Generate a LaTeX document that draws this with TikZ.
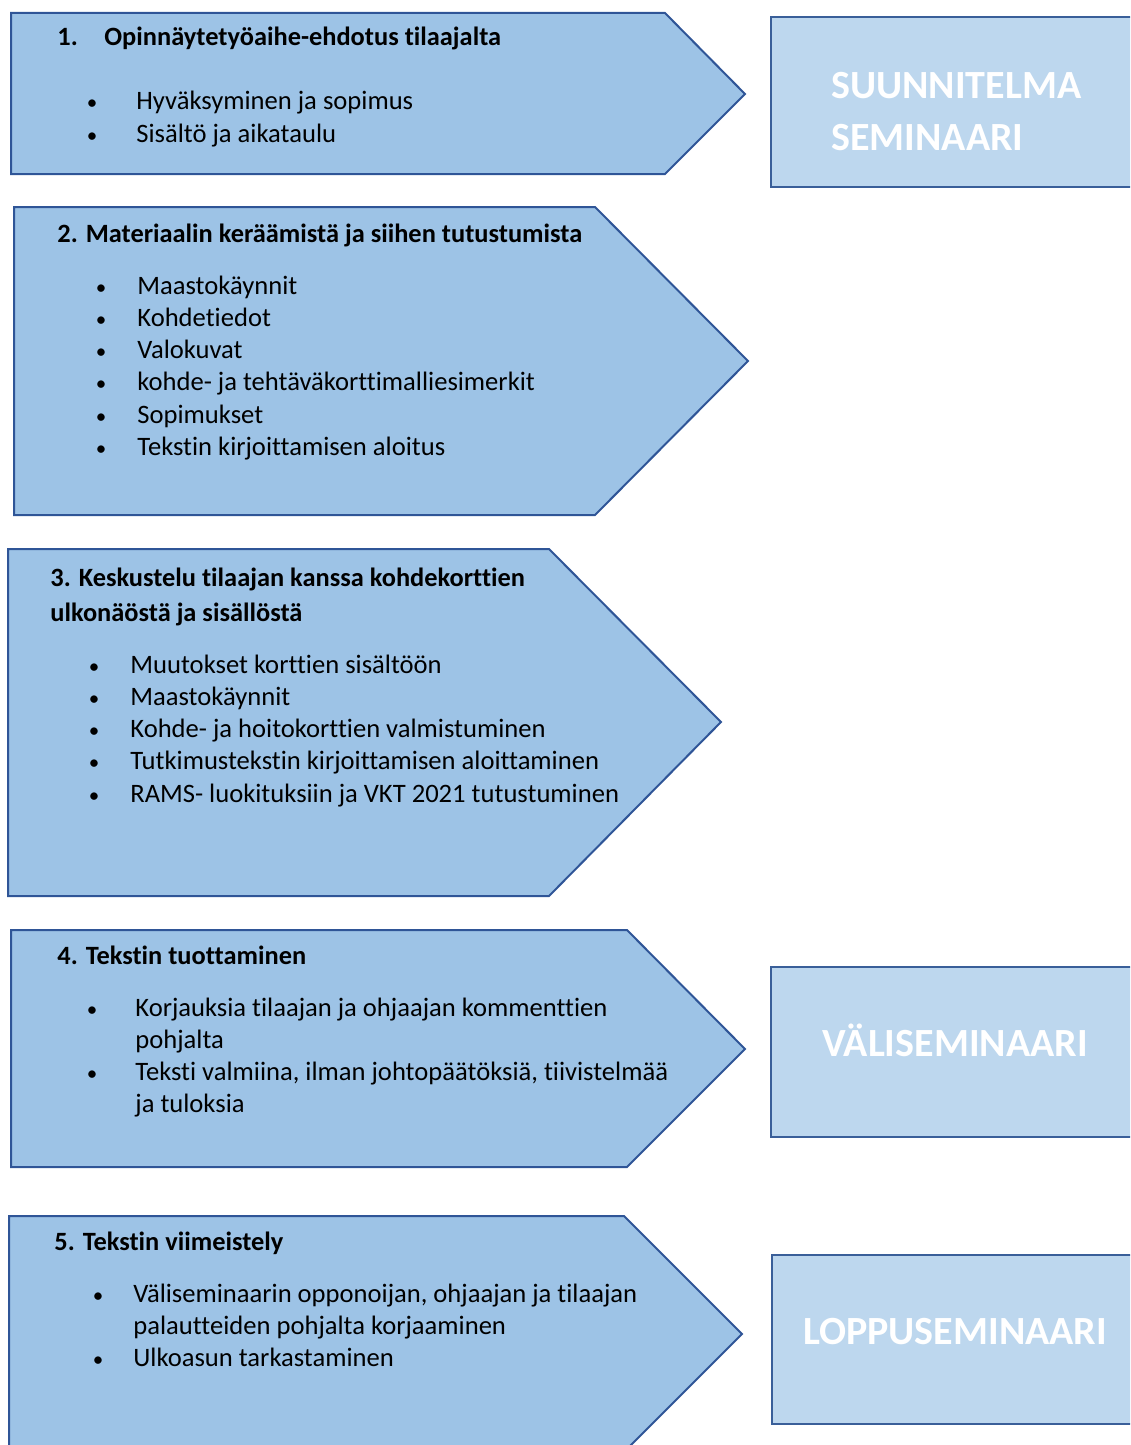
\documentclass[tikz,border=0pt]{standalone}
\usepackage{fontspec}
\setmainfont{Carlito}[Ligatures=NoCommon]
\definecolor{phasefill}{HTML}{9DC3E6}
\definecolor{phaseline}{HTML}{2F5597}
\definecolor{semfill}{HTML}{BDD7EE}
\definecolor{semline}{HTML}{3A5F99}
\tikzset{
  phase/.style={draw=phaseline, fill=phasefill, line width=1pt, line join=miter},
  seminaari/.style={draw=semline, fill=semfill, line width=1.2pt},
  otsikko/.style={anchor=base west, inner sep=0pt, font=\fontsize{13.2}{16}\selectfont\bfseries},
  kohta/.style={anchor=base west, inner sep=0pt, font=\fontsize{13.3}{16}\selectfont},
  pallo/.style={anchor=base, inner sep=0pt, font=\fontsize{10.5}{16}\selectfont},
  semteksti/.style={inner sep=0pt, text=white, font=\fontsize{20}{24}\selectfont\bfseries}
}
\begin{document}
\begin{tikzpicture}[x=0.5pt, y=-0.5pt]
  \clip (0,0) rectangle (1130,1445);

  % vaiheet
  \draw[phase] (11,13) -- (665,13) -- (745,94) -- (665,174) -- (11,174) -- cycle;
  \draw[phase] (14,207) -- (595,207) -- (748,361) -- (595,515) -- (14,515) -- cycle;
  \draw[phase] (8,549) -- (549,549) -- (721,722) -- (549,896) -- (8,896) -- cycle;
  \draw[phase] (11,930) -- (627,930) -- (745,1049) -- (627,1167) -- (11,1167) -- cycle;
  \draw[phase] (9,1216) -- (624,1216) -- (742,1334) -- (624,1452) -- (9,1452) -- cycle;

  % seminaarit
  \draw[seminaari] (771,17) rectangle (1140,187);
  \draw[seminaari] (771,967) rectangle (1140,1137);
  \draw[seminaari] (772,1255) rectangle (1140,1424);

  \node[semteksti, anchor=base west] (sem1a) at (831,99) {SUUNNITELMA};
  \node[semteksti, anchor=base west] (sem1b) at (831,150) {SEMINAARI};
  \node[semteksti, anchor=base] (sem2) at (955,1056) {VÄLISEMINAARI};
  \node[semteksti, anchor=base] (sem3) at (955,1344) {LOPPUSEMINAARI};

  % 1.
  \node[otsikko] (v1n) at (57,46) {1.};
  \node[otsikko] (v1) at (104,46) {Opinnäytetyöaihe-ehdotus tilaajalta};
  \foreach \y/\t [count=\i] in {110/Hyväksyminen ja sopimus, 142/Sisältö ja aikataulu} {
    \node[pallo] (v1p\i) at (92,\y) {\textbullet};
    \node[kohta] (v1k\i) at (136,\y) {\t};
  }

  % 2.
  \node[otsikko] (v2) at (57,242) {2. Materiaalin keräämistä ja siihen tutustumista};
  \foreach \y/\t [count=\i] in {294/Maastokäynnit, 326/Kohdetiedot, 358/Valokuvat,
      390/kohde- ja tehtäväkorttimalliesimerkit, 423/Sopimukset,
      455/Tekstin kirjoittamisen aloitus} {
    \node[pallo] (v2p\i) at (101,\y) {\textbullet};
    \node[kohta] (v2k\i) at (137,\y) {\t};
  }

  % 3.
  \node[otsikko] (v3a) at (50,586) {3. Keskustelu tilaajan kanssa kohdekorttien};
  \node[otsikko] (v3b) at (50,621) {ulkonäöstä ja sisällöstä};
  \foreach \y/\t [count=\i] in {673/Muutokset korttien sisältöön, 705/Maastokäynnit,
      737/Kohde- ja hoitokorttien valmistuminen,
      769/Tutkimustekstin kirjoittamisen aloittaminen,
      802/RAMS- luokituksiin ja VKT 2021 tutustuminen} {
    \node[pallo] (v3p\i) at (94,\y) {\textbullet};
    \node[kohta] (v3k\i) at (130,\y) {\t};
  }

  % 4.
  \node[otsikko] (v4) at (57,964) {4. Tekstin tuottaminen};
  \node[pallo] (v4p1) at (92,1016) {\textbullet};
  \node[kohta] (v4k1) at (135,1016) {Korjauksia tilaajan ja ohjaajan kommenttien};
  \node[kohta] (v4k1b) at (135,1048) {pohjalta};
  \node[pallo] (v4p2) at (92,1080) {\textbullet};
  \node[kohta] (v4k2) at (135,1080) {Teksti valmiina, ilman johtopäätöksiä, tiivistelmää};
  \node[kohta] (v4k2b) at (135,1112) {ja tuloksia};

  % 5.
  \node[otsikko] (v5) at (54,1250) {5. Tekstin viimeistely};
  \node[pallo] (v5p1) at (98,1302) {\textbullet};
  \node[kohta] (v5k1) at (133,1302) {Väliseminaarin opponoijan, ohjaajan ja tilaajan};
  \node[kohta] (v5k1b) at (133,1334) {palautteiden pohjalta korjaaminen};
  \node[pallo] (v5p2) at (98,1366) {\textbullet};
  \node[kohta] (v5k2) at (133,1366) {Ulkoasun tarkastaminen};
\end{tikzpicture}
\end{document}
